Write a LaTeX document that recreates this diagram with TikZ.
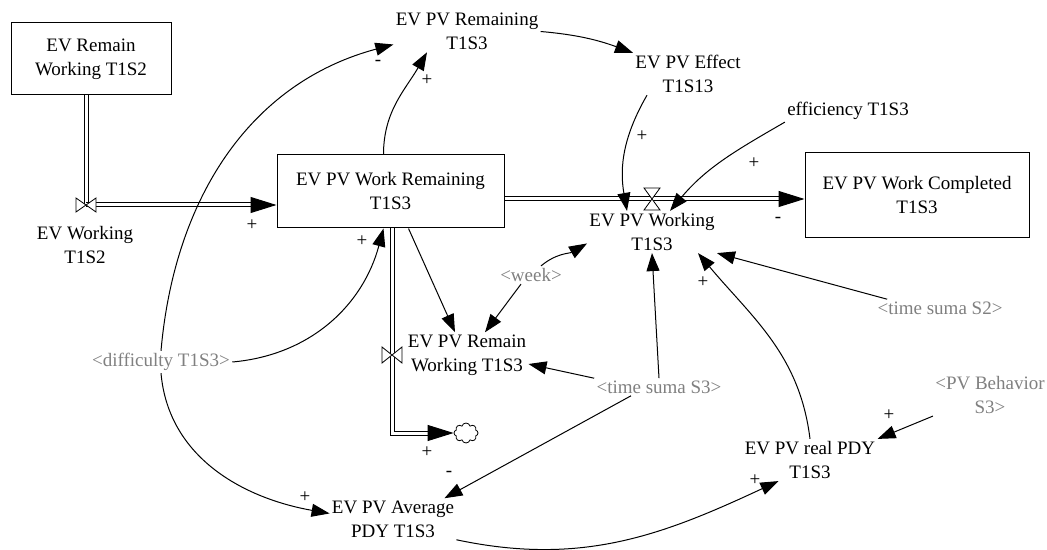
\documentclass[tikz,border=0pt]{standalone}
\usepackage{fontspec}
\setmainfont{Liberation Serif}
\usetikzlibrary{arrows.meta,shapes.symbols}
\definecolor{shadowgray}{RGB}{128,128,128}
\begin{document}
\begin{tikzpicture}[x=0.5pt,y=0.5pt,
  every node/.style={font=\fontsize{9.5}{12}\selectfont,align=center,inner sep=1pt},
  stock/.style={draw,line width=0.5pt},
  shadowvar/.style={text=shadowgray},
  link/.style={-{Triangle[length=9pt,width=6.5pt]},line width=0.5pt},
  pipe/.style={double,double distance=1.5pt,line width=0.5pt},
  pipetip/.style={-{Triangle[length=13pt,width=8pt]}},
  valve/.style={fill=white,line width=0.4pt},
  pol/.style={inner sep=0pt}]
  \useasboundingbox (0,0) rectangle (1047,-550);
  % stocks
  \node[stock,minimum width=80pt,minimum height=36pt] (er) at (91,-59) {EV Remain\\Working T1S2};
  \node[stock,minimum width=113.5pt,minimum height=36.5pt] (wr) at (390.5,-191.5) {EV PV Work Remaining\\T1S3};
  \node[stock,minimum width=112pt,minimum height=42.5pt] (wc) at (917,-195.5) {EV PV Work Completed\\T1S3};
  \coordinate (v1) at (86,-205);
  \coordinate (v2) at (652,-199);
  \coordinate (v3) at (392,-355);
  \node[cloud,cloud puffs=8,aspect=1.3,draw,line width=0.4pt,minimum width=12pt,minimum height=10pt,inner sep=0pt] (cl) at (466,-433) {};
  % flows
  \draw[pipe] (v1 |- er.south) -- (v1);
  \draw[pipe,pipetip] (v1) -- (v1 -| wr.west);
  \draw[pipe,pipetip] (v2 -| wr.east) -- (v2 -| wc.west);
  \draw[pipe,pipetip] (v3 |- wr.south) -- (v3) |- (cl.west);
  \filldraw[valve] (v1) -- ++(-10,7) -- ++(0,-14) -- cycle (v1) -- ++(10,7) -- ++(0,-14) -- cycle;
  \filldraw[valve] (v2) -- ++(-8,11) -- ++(16,0) -- cycle (v2) -- ++(-8,-11) -- ++(16,0) -- cycle;
  \filldraw[valve] (v3) -- ++(-10,8) -- ++(0,-16) -- cycle (v3) -- ++(10,8) -- ++(0,-16) -- cycle;
  \node (fl1) at (85,-245) {EV Working\\T1S2};
  \node (fl2) at (652,-232) {EV PV Working\\T1S3};
  \node (fl3) at (467,-355) {EV PV Remain\\Working T1S3};
  % auxiliaries
  \node (rem) at (467,-31.5) {EV PV Remaining\\T1S3};
  \node (eff) at (688,-74) {EV PV Effect\\T1S13};
  \node (effi) at (848,-111) {efficiency T1S3};
  \node (real) at (810,-460) {EV PV real PDY\\T1S3};
  \node (avg) at (393,-519) {EV PV Average\\PDY T1S3};
  \node[shadowvar] (week) at (531,-275) {<week>};
  \node[shadowvar] (diff) at (161,-362) {<difficulty T1S3>};
  \node[shadowvar] (ts3) at (659,-387) {<time suma S3>};
  \node[shadowvar] (ts2) at (940,-308) {<time suma S2>};
  \node[shadowvar] (pvb) at (990,-395) {<PV Behavior\\S3>};
  % links
  \draw[link] (diff.north) to[out=85,in=195] (rem.190);
  \draw[link] (diff.south) to[out=-85,in=170] (avg.175);
  \draw[link] (diff.east) to[out=5,in=-105] ([xshift=-3.5pt]wr.south);
  \draw[link] ([xshift=-3.5pt]wr.north) to[out=90,in=-120] ([xshift=-20pt]rem.south);
  \draw[link] (rem.east) to[out=-5,in=160] (eff.north west);
  \draw[link] ([xshift=7pt]eff.south west) to[out=-120,in=100] ([xshift=-12.5pt]fl2.north);
  \draw[link] (effi.south west) to[out=-150,in=50] ([xshift=9pt]fl2.north);
  \draw[link] ([xshift=5pt]week.north) to[out=40,in=210] (fl2.190);
  \draw[link] ([xshift=-5pt]week.south) -- ([xshift=9pt]fl3.north);
  \draw[link] ([xshift=9pt]wr.south) -- ([xshift=-6pt]fl3.north);
  \draw[link] (ts3.north west) -- ([yshift=-4.5pt]fl3.east);
  \draw[link] ([xshift=-14pt]ts3.south) -- ([xshift=-6pt]avg.north east);
  \draw[link] (ts3.north) -- (fl2.south);
  \draw[link] ([xshift=6pt]ts2.north west) -- (fl2.south east);
  \draw[link] (real.north) to[out=97,in=-50] ([xshift=23pt]fl2.south);
  \draw[link] (pvb.south west) -- (real.north east);
  \draw[link] (avg.south east) to[out=-12,in=205] ([xshift=18pt]real.south west);
  % polarities
  \node[pol] (p1) at (252,-225) {+};
  \node[pol] (p2) at (778,-220) {-};
  \node[pol] (p3) at (427,-452) {+};
  \node[pol] (p4) at (378,-63) {-};
  \node[pol] (p5) at (427,-80) {+};
  \node[pol] (p6) at (642,-136) {+};
  \node[pol] (p7) at (754,-163) {+};
  \node[pol] (p8) at (362,-241) {+};
  \node[pol] (p9) at (305,-497) {+};
  \node[pol] (p10) at (449,-474) {-};
  \node[pol] (p11) at (703,-282) {+};
  \node[pol] (p12) at (889,-415) {+};
  \node[pol] (p13) at (755,-480) {+};
\end{tikzpicture}
\end{document}
